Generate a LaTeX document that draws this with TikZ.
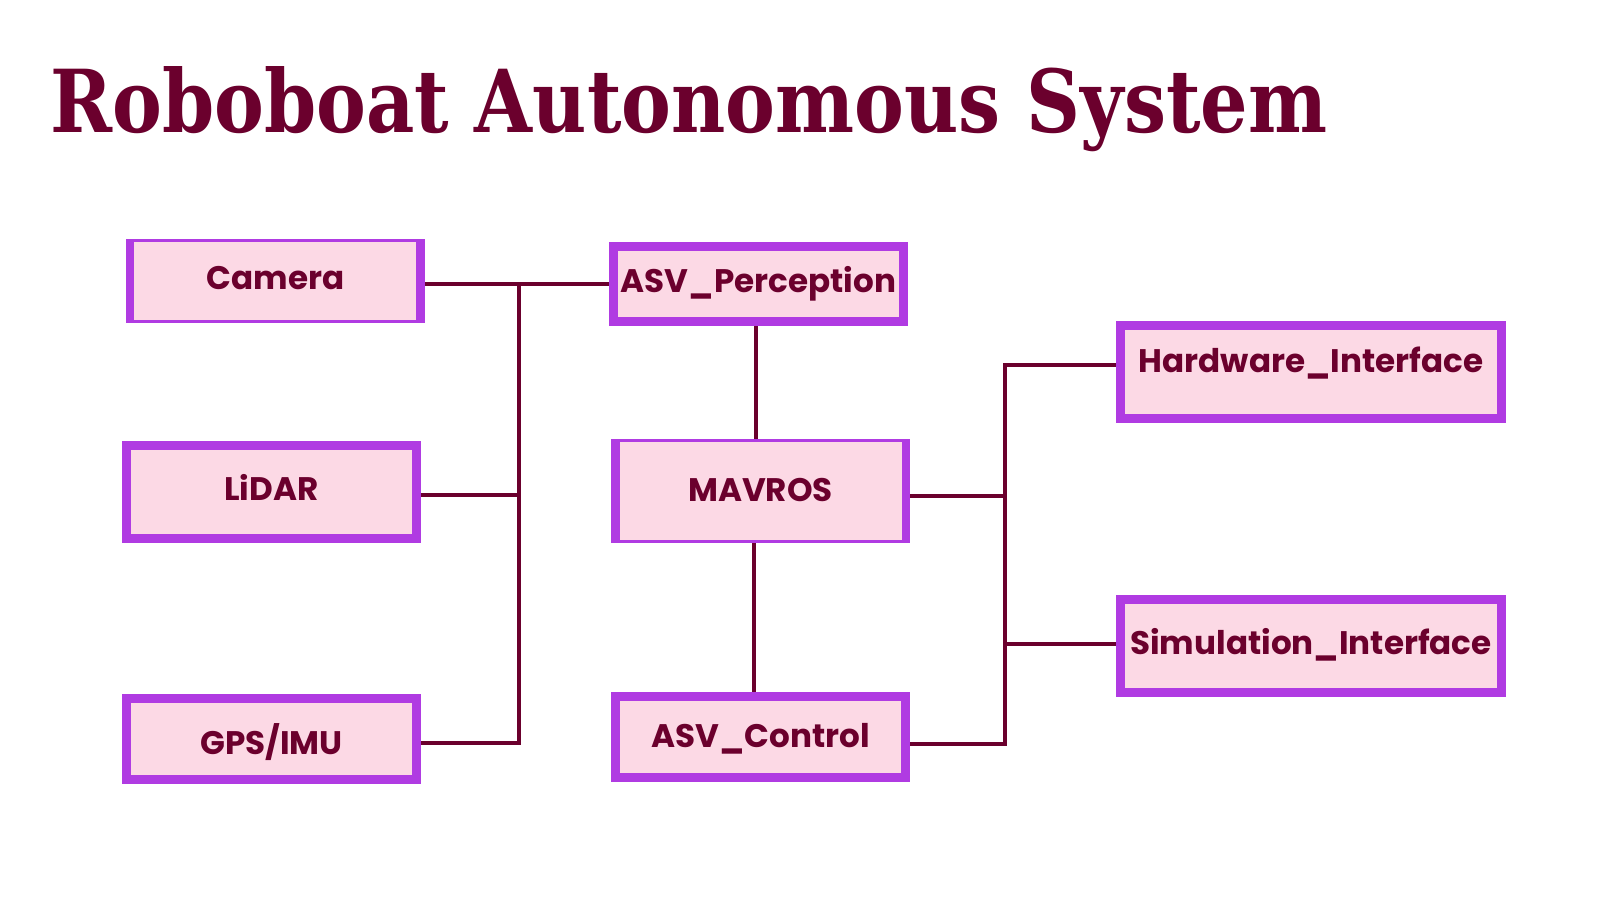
\documentclass[tikz,border=0pt]{standalone}
\usepackage{fontspec}
\newfontfamily\pop{Poppins}
\newfontfamily\ttlfont{DejaVu Serif}
\usetikzlibrary{calc}
\definecolor{maroon}{HTML}{6B002D}
\definecolor{boxpurple}{HTML}{B03BE2}
\definecolor{boxpink}{HTML}{FCD9E5}
\tikzset{
  sysbox/.style n args={6}{draw=none, fill=boxpurple, inner sep=0pt,
    minimum width=#1pt, minimum height=#2pt, text=maroon,
    font=\pop\bfseries\fontsize{32.6}{40}\selectfont,
    text height=22.8pt, text depth=0pt,
    path picture={\fill[boxpink]
      ($(path picture bounding box.north west)+(#3,#4)$) rectangle
      ($(path picture bounding box.south east)+(-#5,-#6)$);}},
  conn/.style={draw=maroon, line width=3.3pt},
  titletext/.style={anchor=base west, inner sep=0pt, text=maroon}
}
\begin{document}
\begin{tikzpicture}[x=1pt,y=-1pt]
\useasboundingbox (0,0) rectangle (1600,900);
\fill[white] (0,0) rectangle (1600,900);

\node[titletext] (title) at (50,132.7)
  {\resizebox{1277pt}{66pt}{\ttlfont\bfseries\fontsize{90}{100}\selectfont Roboboat Autonomous System}};

% left column
\node[sysbox={299}{84}{8}{3}{9}{3}]  (cam) at (275.5,281) {\raisebox{3pt}{Camera}};
\node[sysbox={299}{102}{9}{9}{9}{9}] (lid) at (271.5,492) {\raisebox{2.5pt}{LiDAR}};
\node[sysbox={299}{90}{9}{9}{9}{9}]  (gps) at (271.5,739) {\raisebox{-4.5pt}{GPS/IMU}};
% middle column
\node[sysbox={299}{84}{9}{9}{9}{9}]  (per) at (758.5,284) {\raisebox{3pt}{ASV\_Perception}};
\node[sysbox={299}{104}{9}{3}{8}{3}] (mav) at (760.5,491) {\raisebox{1pt}{MAVROS}};
\node[sysbox={299}{90}{9}{9}{9}{9}]  (ctl) at (760.5,737) {\raisebox{0.5pt}{ASV\_Control}};
% right column
\node[sysbox={390}{102}{9}{9}{9}{9}] (hw)  at (1311,372) {\raisebox{11pt}{Hardware\_Interface}};
\node[sysbox={390}{102}{9}{9}{9}{9}] (sim) at (1311,646) {\raisebox{2.5pt}{Simulation\_Interface}};

% bus points
\coordinate (lbus) at (519,284);
\coordinate (rbus) at (1005,365);

% left connectors
\draw[conn] (per.west) -- (per.west -| cam.east);
\draw[conn] (lbus) |- ([yshift=-4pt]gps.east);
\draw[conn] ([yshift=-3pt]lid.east) -- ([yshift=-3pt]lid.east -| lbus);
% middle connectors
\draw[conn] ([xshift=-2.5pt]per.south) -- ([xshift=-2.5pt]per.south |- mav.north);
\draw[conn] ([xshift=-6.5pt]mav.south) -- ([xshift=-6.5pt]mav.south |- ctl.north);
% right connectors
\draw[conn] ([yshift=7pt]hw.west) -- (rbus) |- ([yshift=-7pt]ctl.east);
\draw[conn] ([yshift=-5pt]mav.east) -- ([yshift=-5pt]mav.east -| rbus);
\draw[conn] ([yshift=2pt]sim.west) -- ([yshift=2pt]sim.west -| rbus);
\end{tikzpicture}
\end{document}
